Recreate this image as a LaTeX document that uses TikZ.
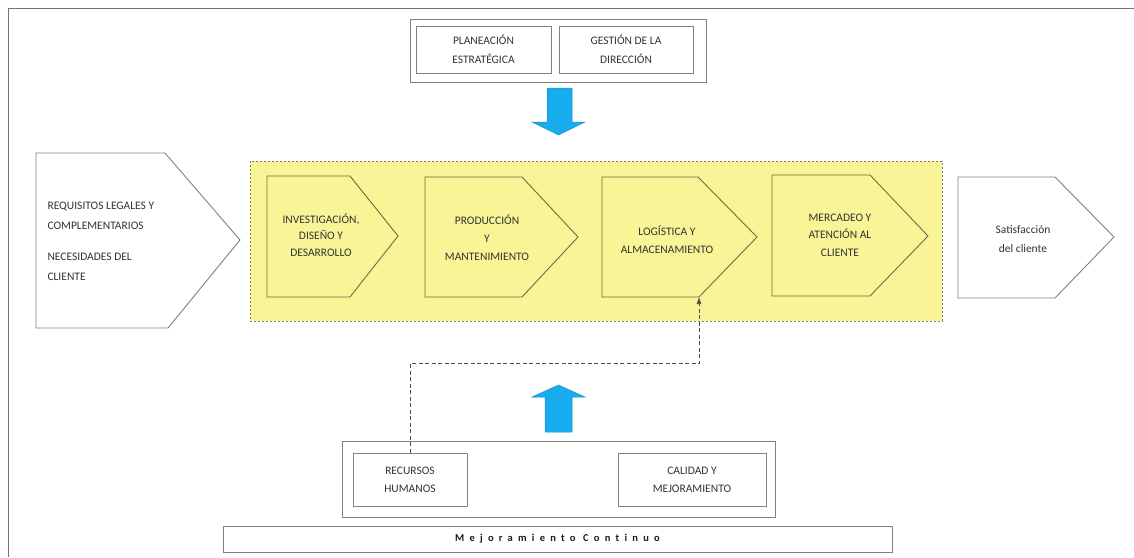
\documentclass[tikz,border=0pt]{standalone}
\usepackage{fontspec}
\setmainfont{Carlito}
\usepackage{xcolor}
\usetikzlibrary{arrows.meta}
\definecolor{procyellow}{RGB}{249,245,151}
\definecolor{procline}{RGB}{110,108,70}
\definecolor{arrowblue}{RGB}{22,172,238}
\definecolor{arrowline}{RGB}{40,140,195}

\begin{document}
\begin{tikzpicture}[x=1pt,y=-1pt,
  every node/.style={font=\fontsize{11.5}{17}\selectfont, text=black!80},
  frame/.style={draw=gray, line width=0.9pt},
  box/.style={frame, align=center, inner sep=0pt},
  procshape/.style={draw=procline, line width=0.9pt, fill=procyellow},
  whiteshape/.style={draw=gray, line width=0.9pt, fill=white},
  blockarrow/.style={fill=arrowblue, draw=arrowline, line width=0.5pt},
  dashlink/.style={draw=black!70, line width=0.7pt, dash pattern=on 4pt off 2.5pt, -{Latex[length=7pt,width=5pt]}},
  lbl/.style={align=center}]
\useasboundingbox (0,0) rectangle (1134,557);

%Draw page frame
\draw[draw=black!55, line width=1pt] (8.5,557) -- (8.5,8.5) -- (1134,8.5);

%Draw top group
\node[box, minimum width=296, minimum height=63] (topgroup) at (558,50.5) {};
\node[box, minimum width=135, minimum height=47, font=\fontsize{11.5}{19}\selectfont] (plan) at (483.5,49.5) {PLANEACIÓN\\ESTRATÉGICA};
\node[box, minimum width=134, minimum height=47, font=\fontsize{11.5}{19}\selectfont] (gestion) at (626,49.5) {GESTIÓN DE LA\\DIRECCIÓN};

%Draw down arrow
\draw[blockarrow] (547,88) -- (572,88) -- (572,122) -- (585,122) -- (558.5,135) -- (532,122) -- (547,122) -- cycle;

%Draw input on left-hand side
\draw[whiteshape] (36,153) -- (165,153) -- (240,240) -- (168,328) -- (36,328) -- cycle;
\node[align=left, anchor=north west, font=\fontsize{11.5}{20}\selectfont] (requisitos) at (44,198) {REQUISITOS LEGALES Y\\COMPLEMENTARIOS\\[11pt]NECESIDADES DEL\\CLIENTE};

%Draw process zone
\draw[fill=procyellow, draw=gray, line width=0.7pt, dash pattern=on 2pt off 2pt] (250,161) rectangle (942,321);

%Draw process steps
\draw[procshape] (267,176) -- (350,176) -- (398,236) -- (350,297) -- (267,297) -- cycle;
\node[lbl, font=\fontsize{11.5}{16.5}\selectfont] (idd) at (321,235) {INVESTIGACIÓN,\\DISEÑO Y\\DESARROLLO};
\draw[procshape] (425,177) -- (522,177) -- (578,237) -- (522,297) -- (425,297) -- cycle;
\node[lbl, font=\fontsize{11.5}{18}\selectfont] (prod) at (487,238) {PRODUCCIÓN\\Y\\MANTENIMIENTO};
\draw[procshape] (602,177) -- (698,177) -- (757,237) -- (699,297) -- (602,297) -- cycle;
\coordinate (logisbot) at (699,297);
\node[lbl, font=\fontsize{11.5}{18}\selectfont] (logis) at (667,240) {LOGÍSTICA Y\\ALMACENAMIENTO};
\draw[procshape] (772,175) -- (870,175) -- (928,236) -- (870,296) -- (772,296) -- cycle;
\node[lbl, font=\fontsize{11.5}{17.5}\selectfont] (merc) at (840,235) {MERCADEO Y\\ATENCIÓN AL\\CLIENTE};

%Draw output on right-hand side
\draw[whiteshape] (958,177) -- (1055,177) -- (1114,237) -- (1055,298) -- (958,298) -- cycle;
\node[lbl, font=\fontsize{11.5}{19}\selectfont] (satis) at (1023,239.5) {Satisfacción\\del cliente};

%Draw up arrow
\draw[blockarrow] (545,432) -- (572,432) -- (572,397) -- (585,397) -- (558.5,385) -- (532,397) -- (545,397) -- cycle;

%Draw bottom group
\node[box, minimum width=433, minimum height=76] (botgroup) at (558.5,479) {};
\node[box, minimum width=114, minimum height=53, font=\fontsize{11.5}{18}\selectfont] (rrhh) at (410,479.5) {RECURSOS\\HUMANOS};
\node[box, minimum width=148, minimum height=53, font=\fontsize{11.5}{18}\selectfont] (calidad) at (692,479.5) {CALIDAD Y\\MEJORAMIENTO};

%Draw dashed link
\draw[dashlink] (rrhh.north) -- ++(0,-89) -| (logisbot);

%Draw bottom bar
\node[box, minimum width=669, minimum height=26, text=black!90, font=\fontsize{10.5}{12}\selectfont\bfseries\addfontfeatures{LetterSpace=50,Ligatures=NoCommon}] (mejora) at (557.5,539) {Mejoramiento Continuo};
\end{tikzpicture}
\end{document}
